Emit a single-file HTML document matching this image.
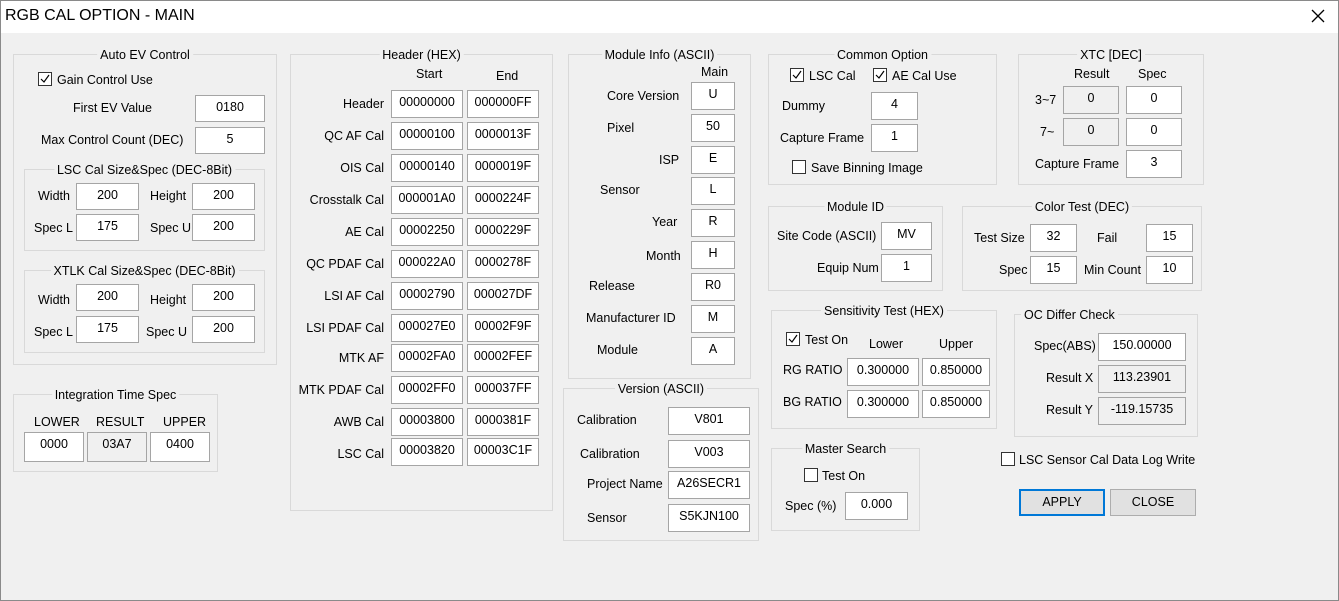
<!DOCTYPE html>
<html><head><meta charset="utf-8"><style>
body{margin:0;width:1339px;height:601px;background:#f0f0f0;font-family:"Liberation Sans",sans-serif;font-size:12.5px;color:#000;position:relative;overflow:hidden}
#tb{position:absolute;left:0;top:0;width:1339px;height:33px;background:#fff}
#tb span{position:absolute;left:5px;top:7px;font-size:16px}
#x{position:absolute;left:1311px;top:9px}
#frame{position:absolute;left:0;top:0;width:1337px;height:599px;border:1px solid #8a8a8a}
.g{position:absolute;border:1px solid #d9d9d9;box-sizing:border-box}
.t{position:absolute;top:-8px;left:50%;transform:translateX(-50%);background:#f0f0f0;padding:0 3px;white-space:nowrap;line-height:16px}
.l{position:absolute;line-height:16px;white-space:nowrap}
.i{position:absolute;background:#fff;border:1px solid #a5a5a5;text-align:center;box-sizing:border-box;line-height:22px}
.r{background:#f0f0f0}
.c{position:absolute;width:14px;height:14px;border:1px solid #333;background:#fff;box-sizing:border-box}
.c svg{position:absolute;left:1px;top:1px}
.b{position:absolute;border:1px solid #adadad;background:#e1e1e1;text-align:center;box-sizing:border-box;line-height:24px}
</style></head><body>
<div id="tb"><span>RGB CAL OPTION - MAIN</span><svg id="x" width="14" height="14"><path d="M1 1L13 13M13 1L1 13" stroke="#000" stroke-width="1.3"/></svg></div>
<div id="frame"></div>

<!-- Auto EV -->
<div class="g" style="left:13px;top:54px;width:264px;height:311px"><div class="t">Auto EV Control</div></div>
<div class="c" style="left:38px;top:72px"><svg width="10" height="10"><path d="M1 5L4 8L9 1" stroke="#000" fill="none" stroke-width="1.2"/></svg></div><div class="l" style="left:57px;top:72px">Gain Control Use</div>
<div class="l" style="left:73px;top:100px">First EV Value</div><div class="i" style="left:195px;top:95px;width:70px;height:27px">0180</div>
<div class="l" style="left:41px;top:132px">Max Control Count (DEC)</div><div class="i" style="left:195px;top:127px;width:70px;height:27px">5</div>
<div class="g" style="left:24px;top:169px;width:241px;height:82px"><div class="t">LSC Cal Size&amp;Spec (DEC-8Bit)</div></div>
<div class="l" style="left:38px;top:188px">Width</div><div class="i" style="left:76px;top:183px;width:63px;height:27px">200</div>
<div class="l" style="left:150px;top:188px">Height</div><div class="i" style="left:192px;top:183px;width:63px;height:27px">200</div>
<div class="l" style="left:34px;top:220px">Spec L</div><div class="i" style="left:76px;top:214px;width:63px;height:27px">175</div>
<div class="l" style="left:150px;top:220px">Spec U</div><div class="i" style="left:192px;top:214px;width:63px;height:27px">200</div>
<div class="g" style="left:24px;top:270px;width:241px;height:83px"><div class="t">XTLK Cal Size&amp;Spec (DEC-8Bit)</div></div>
<div class="l" style="left:38px;top:292px">Width</div><div class="i" style="left:76px;top:284px;width:63px;height:27px">200</div>
<div class="l" style="left:150px;top:292px">Height</div><div class="i" style="left:192px;top:284px;width:63px;height:27px">200</div>
<div class="l" style="left:34px;top:324px">Spec L</div><div class="i" style="left:76px;top:316px;width:63px;height:27px">175</div>
<div class="l" style="left:146px;top:324px">Spec U</div><div class="i" style="left:192px;top:316px;width:63px;height:27px">200</div>

<!-- Integration -->
<div class="g" style="left:13px;top:394px;width:205px;height:78px"><div class="t">Integration Time Spec</div></div>
<div class="l" style="left:34px;top:414px">LOWER</div><div class="l" style="left:96px;top:414px">RESULT</div><div class="l" style="left:163px;top:414px">UPPER</div>
<div class="i" style="left:24px;top:432px;width:60px;height:30px">0000</div>
<div class="i r" style="left:87px;top:432px;width:60px;height:30px">03A7</div>
<div class="i" style="left:150px;top:432px;width:60px;height:30px">0400</div>

<!-- Header -->
<div class="g" style="left:290px;top:54px;width:263px;height:457px"><div class="t">Header (HEX)</div></div>
<div class="l" style="left:416px;top:66px">Start</div><div class="l" style="left:496px;top:68px">End</div>
<div class="l" style="right:955px;top:96px">Header</div><div class="i" style="left:391px;top:90px;width:72px;height:28px">00000000</div><div class="i" style="left:467px;top:90px;width:72px;height:28px">000000FF</div>
<div class="l" style="right:955px;top:128px">QC AF Cal</div><div class="i" style="left:391px;top:122px;width:72px;height:28px">00000100</div><div class="i" style="left:467px;top:122px;width:72px;height:28px">0000013F</div>
<div class="l" style="right:955px;top:160px">OIS Cal</div><div class="i" style="left:391px;top:154px;width:72px;height:28px">00000140</div><div class="i" style="left:467px;top:154px;width:72px;height:28px">0000019F</div>
<div class="l" style="right:955px;top:192px">Crosstalk Cal</div><div class="i" style="left:391px;top:186px;width:72px;height:28px">000001A0</div><div class="i" style="left:467px;top:186px;width:72px;height:28px">0000224F</div>
<div class="l" style="right:955px;top:224px">AE Cal</div><div class="i" style="left:391px;top:218px;width:72px;height:28px">00002250</div><div class="i" style="left:467px;top:218px;width:72px;height:28px">0000229F</div>
<div class="l" style="right:955px;top:256px">QC PDAF Cal</div><div class="i" style="left:391px;top:250px;width:72px;height:28px">000022A0</div><div class="i" style="left:467px;top:250px;width:72px;height:28px">0000278F</div>
<div class="l" style="right:955px;top:288px">LSI AF Cal</div><div class="i" style="left:391px;top:282px;width:72px;height:28px">00002790</div><div class="i" style="left:467px;top:282px;width:72px;height:28px">000027DF</div>
<div class="l" style="right:955px;top:320px">LSI PDAF Cal</div><div class="i" style="left:391px;top:314px;width:72px;height:28px">000027E0</div><div class="i" style="left:467px;top:314px;width:72px;height:28px">00002F9F</div>
<div class="l" style="right:955px;top:350px">MTK AF</div><div class="i" style="left:391px;top:344px;width:72px;height:28px">00002FA0</div><div class="i" style="left:467px;top:344px;width:72px;height:28px">00002FEF</div>
<div class="l" style="right:955px;top:382px">MTK PDAF Cal</div><div class="i" style="left:391px;top:376px;width:72px;height:28px">00002FF0</div><div class="i" style="left:467px;top:376px;width:72px;height:28px">000037FF</div>
<div class="l" style="right:955px;top:414px">AWB Cal</div><div class="i" style="left:391px;top:408px;width:72px;height:28px">00003800</div><div class="i" style="left:467px;top:408px;width:72px;height:28px">0000381F</div>
<div class="l" style="right:955px;top:446px">LSC Cal</div><div class="i" style="left:391px;top:438px;width:72px;height:28px">00003820</div><div class="i" style="left:467px;top:438px;width:72px;height:28px">00003C1F</div>

<!-- Module Info -->
<div class="g" style="left:568px;top:54px;width:183px;height:325px"><div class="t">Module Info (ASCII)</div></div>
<div class="l" style="left:701px;top:64px">Main</div>
<div class="l" style="left:607px;top:88px">Core Version</div><div class="i" style="left:691px;top:82px;width:44px;height:28px">U</div>
<div class="l" style="left:607px;top:120px">Pixel</div><div class="i" style="left:691px;top:114px;width:44px;height:28px">50</div>
<div class="l" style="left:659px;top:152px">ISP</div><div class="i" style="left:691px;top:146px;width:44px;height:28px">E</div>
<div class="l" style="left:600px;top:182px">Sensor</div><div class="i" style="left:691px;top:177px;width:44px;height:28px">L</div>
<div class="l" style="left:652px;top:214px">Year</div><div class="i" style="left:691px;top:209px;width:44px;height:28px">R</div>
<div class="l" style="left:646px;top:248px">Month</div><div class="i" style="left:691px;top:241px;width:44px;height:28px">H</div>
<div class="l" style="left:589px;top:278px">Release</div><div class="i" style="left:691px;top:273px;width:44px;height:28px">R0</div>
<div class="l" style="left:586px;top:310px">Manufacturer ID</div><div class="i" style="left:691px;top:305px;width:44px;height:28px">M</div>
<div class="l" style="left:597px;top:342px">Module</div><div class="i" style="left:691px;top:337px;width:44px;height:28px">A</div>

<!-- Version -->
<div class="g" style="left:563px;top:388px;width:196px;height:153px"><div class="t">Version (ASCII)</div></div>
<div class="l" style="left:577px;top:412px">Calibration</div><div class="i" style="left:668px;top:407px;width:82px;height:28px">V801</div>
<div class="l" style="left:580px;top:446px">Calibration</div><div class="i" style="left:668px;top:440px;width:82px;height:28px">V003</div>
<div class="l" style="left:587px;top:476px">Project Name</div><div class="i" style="left:668px;top:471px;width:82px;height:28px">A26SECR1</div>
<div class="l" style="left:587px;top:510px">Sensor</div><div class="i" style="left:668px;top:504px;width:82px;height:28px">S5KJN100</div>

<!-- Common Option -->
<div class="g" style="left:768px;top:54px;width:229px;height:131px"><div class="t">Common Option</div></div>
<div class="c" style="left:790px;top:68px"><svg width="10" height="10"><path d="M1 5L4 8L9 1" stroke="#000" fill="none" stroke-width="1.2"/></svg></div><div class="l" style="left:809px;top:68px">LSC Cal</div>
<div class="c" style="left:873px;top:68px"><svg width="10" height="10"><path d="M1 5L4 8L9 1" stroke="#000" fill="none" stroke-width="1.2"/></svg></div><div class="l" style="left:892px;top:68px">AE Cal Use</div>
<div class="l" style="left:782px;top:98px">Dummy</div><div class="i" style="left:871px;top:92px;width:47px;height:28px">4</div>
<div class="l" style="left:780px;top:130px">Capture Frame</div><div class="i" style="left:871px;top:124px;width:47px;height:28px">1</div>
<div class="c" style="left:792px;top:160px"></div><div class="l" style="left:811px;top:160px">Save Binning Image</div>

<!-- XTC -->
<div class="g" style="left:1018px;top:54px;width:186px;height:131px"><div class="t">XTC [DEC]</div></div>
<div class="l" style="left:1074px;top:66px">Result</div><div class="l" style="left:1138px;top:66px">Spec</div>
<div class="l" style="left:1035px;top:92px">3~7</div><div class="i r" style="left:1063px;top:86px;width:56px;height:28px">0</div><div class="i" style="left:1126px;top:86px;width:56px;height:28px">0</div>
<div class="l" style="left:1040px;top:124px">7~</div><div class="i r" style="left:1063px;top:118px;width:56px;height:28px">0</div><div class="i" style="left:1126px;top:118px;width:56px;height:28px">0</div>
<div class="l" style="left:1035px;top:156px">Capture Frame</div><div class="i" style="left:1126px;top:150px;width:56px;height:28px">3</div>

<!-- Module ID -->
<div class="g" style="left:768px;top:206px;width:175px;height:85px"><div class="t">Module ID</div></div>
<div class="l" style="left:777px;top:228px">Site Code (ASCII)</div><div class="i" style="left:881px;top:222px;width:51px;height:28px">MV</div>
<div class="l" style="left:817px;top:260px">Equip Num</div><div class="i" style="left:881px;top:254px;width:51px;height:28px">1</div>

<!-- Color Test -->
<div class="g" style="left:962px;top:206px;width:240px;height:85px"><div class="t">Color Test (DEC)</div></div>
<div class="l" style="left:974px;top:230px">Test Size</div><div class="i" style="left:1030px;top:224px;width:47px;height:28px">32</div>
<div class="l" style="left:1097px;top:230px">Fail</div><div class="i" style="left:1146px;top:224px;width:47px;height:28px">15</div>
<div class="l" style="left:999px;top:262px">Spec</div><div class="i" style="left:1030px;top:256px;width:47px;height:28px">15</div>
<div class="l" style="left:1084px;top:262px">Min Count</div><div class="i" style="left:1146px;top:256px;width:47px;height:28px">10</div>

<!-- Sensitivity -->
<div class="g" style="left:771px;top:310px;width:226px;height:119px"><div class="t">Sensitivity Test (HEX)</div></div>
<div class="c" style="left:786px;top:332px"><svg width="10" height="10"><path d="M1 5L4 8L9 1" stroke="#000" fill="none" stroke-width="1.2"/></svg></div><div class="l" style="left:805px;top:332px">Test On</div>
<div class="l" style="left:869px;top:336px">Lower</div><div class="l" style="left:939px;top:336px">Upper</div>
<div class="l" style="left:783px;top:362px">RG RATIO</div><div class="i" style="left:847px;top:358px;width:72px;height:28px">0.300000</div><div class="i" style="left:922px;top:358px;width:68px;height:28px">0.850000</div>
<div class="l" style="left:783px;top:394px">BG RATIO</div><div class="i" style="left:847px;top:390px;width:72px;height:28px">0.300000</div><div class="i" style="left:922px;top:390px;width:68px;height:28px">0.850000</div>

<!-- OC Differ -->
<div class="g" style="left:1014px;top:314px;width:184px;height:123px"><div class="t" style="left:6px;transform:none">OC Differ Check</div></div>
<div class="l" style="left:1034px;top:338px">Spec(ABS)</div><div class="i" style="left:1098px;top:333px;width:88px;height:28px">150.00000</div>
<div class="l" style="left:1046px;top:370px">Result X</div><div class="i r" style="left:1098px;top:365px;width:88px;height:28px">113.23901</div>
<div class="l" style="left:1046px;top:402px">Result Y</div><div class="i r" style="left:1098px;top:397px;width:88px;height:28px">-119.15735</div>

<!-- Master Search -->
<div class="g" style="left:771px;top:448px;width:149px;height:83px"><div class="t">Master Search</div></div>
<div class="c" style="left:804px;top:468px"></div><div class="l" style="left:822px;top:468px">Test On</div>
<div class="l" style="left:785px;top:498px">Spec (%)</div><div class="i" style="left:845px;top:492px;width:63px;height:28px">0.000</div>

<div class="c" style="left:1001px;top:452px"></div><div class="l" style="left:1019px;top:452px">LSC Sensor Cal Data Log Write</div>
<div class="b" style="left:1019px;top:489px;width:86px;height:27px;border:2px solid #0078d7;line-height:23px">APPLY</div>
<div class="b" style="left:1110px;top:489px;width:86px;height:27px">CLOSE</div>
</body></html>
